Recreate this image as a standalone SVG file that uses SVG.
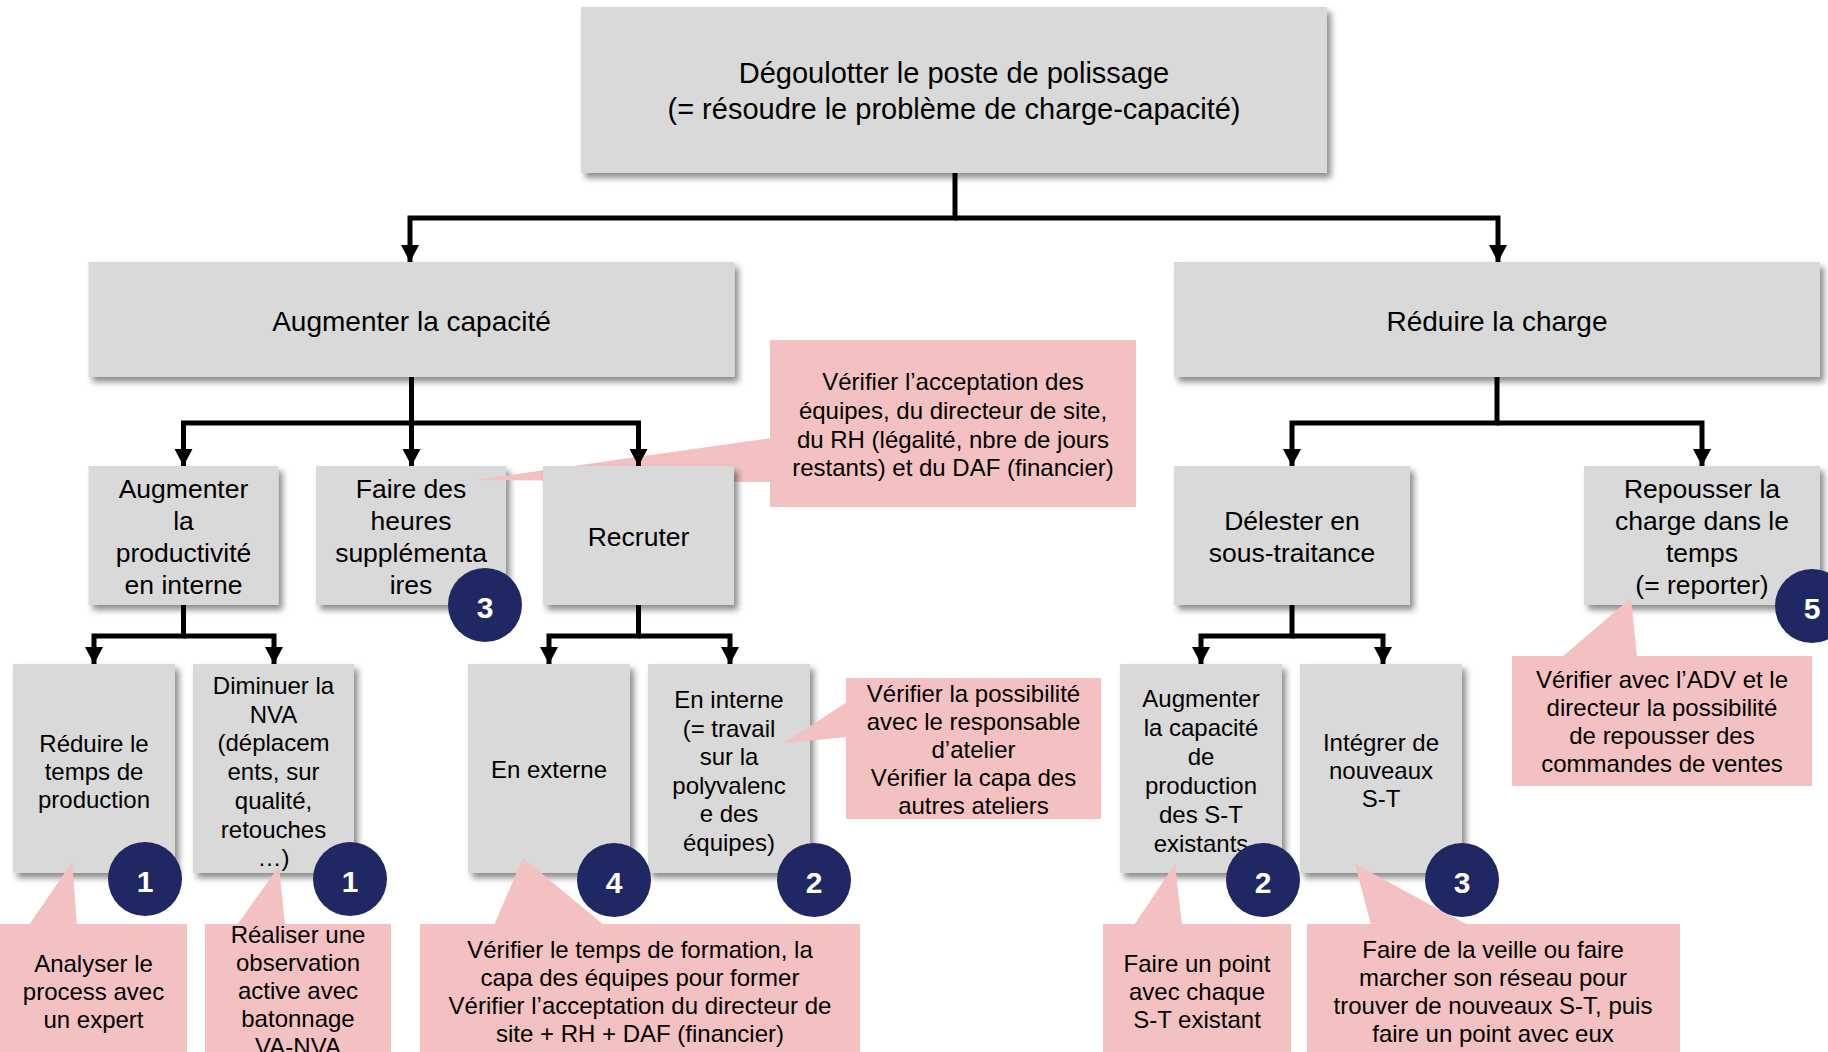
<svg xmlns="http://www.w3.org/2000/svg" width="1828" height="1052" viewBox="0 0 1828 1052">
<defs>
<filter id="sh" x="-10%" y="-10%" width="130%" height="130%">
<feDropShadow dx="4" dy="5" stdDeviation="3" flood-color="#000" flood-opacity="0.45"/>
</filter>
<marker id="ah" markerUnits="userSpaceOnUse" markerWidth="17" markerHeight="18" refX="17" refY="9" orient="auto">
<path d="M0,0 L17,9 L0,18 Z" fill="#000"/>
</marker>
<style>
.box{fill:#D9D9D9;filter:url(#sh)}
.call{fill:#F3C1C2}
.badge{fill:#1F2862}
text{font-family:"Liberation Sans",Arial,sans-serif;fill:#000;text-anchor:middle}
.t29{font-size:29px}
.t28{font-size:28px}
.t26{font-size:26.5px}
.t24{font-size:24px}
.num{font-size:30px;font-weight:bold;fill:#fff}
.conn{fill:none;stroke:#000;stroke-width:5;marker-end:url(#ah)}
</style>
</defs>
<rect width="1828" height="1052" fill="#fff"/>

<g id="n-root">
<rect class="box" x="581" y="7" width="746" height="166"/>
<text class="t29" x="954" y="83">Dégoulotter le poste de polissage</text>
<text class="t29" x="954" y="119">(= résoudre le problème de charge-capacité)</text>
</g>

<g id="n-capacite">
<rect class="box" x="88.5" y="262" width="646" height="115"/>
<text class="t28" x="411.5" y="331">Augmenter la capacité</text>
</g>

<g id="n-charge">
<rect class="box" x="1174" y="262" width="646" height="115"/>
<text class="t28" x="1497" y="331">Réduire la charge</text>
</g>

<g id="n-productivite">
<rect class="box" x="88.5" y="466" width="190" height="139"/>
<text class="t26" x="183.5" y="498">Augmenter</text>
<text class="t26" x="183.5" y="530">la</text>
<text class="t26" x="183.5" y="562">productivité</text>
<text class="t26" x="183.5" y="594">en interne</text>
</g>

<g id="n-heures">
<rect class="box" x="316" y="466" width="190" height="139"/>
<text class="t26" x="411" y="498">Faire des</text>
<text class="t26" x="411" y="530">heures</text>
<text class="t26" x="411" y="562">supplémenta</text>
<text class="t26" x="411" y="594">ires</text>
</g>

<g id="c-heures">
<polygon class="call" points="474,480 771,438 771,482"/>
<rect class="call" x="770" y="340" width="366" height="167"/>
<text class="t24" x="953" y="390">Vérifier l’acceptation des</text>
<text class="t24" x="953" y="418.8">équipes, du directeur de site,</text>
<text class="t24" x="953" y="447.6">du RH (légalité, nbre de jours</text>
<text class="t24" x="953" y="476.4">restants) et du DAF (financier)</text>
</g>

<g id="n-recruter">
<rect class="box" x="543" y="466" width="191" height="139"/>
<text class="t26" x="638.5" y="546">Recruter</text>
</g>

<g id="n-delester">
<rect class="box" x="1174" y="466" width="236" height="139"/>
<text class="t26" x="1292" y="530">Délester en</text>
<text class="t26" x="1292" y="562">sous-traitance</text>
</g>

<g id="n-repousser">
<rect class="box" x="1584" y="466" width="236" height="139"/>
<text class="t26" x="1702" y="498">Repousser la</text>
<text class="t26" x="1702" y="530">charge dans le</text>
<text class="t26" x="1702" y="562">temps</text>
<text class="t26" x="1702" y="594">(= reporter)</text>
</g>

<g id="n-temps">
<rect class="box" x="13" y="664" width="162" height="209"/>
<text class="t24" x="94" y="752">Réduire le</text>
<text class="t24" x="94" y="780">temps de</text>
<text class="t24" x="94" y="808">production</text>
</g>

<g id="n-nva">
<rect class="box" x="193" y="664" width="161" height="209"/>
<text class="t24" x="273.5" y="694">Diminuer la</text>
<text class="t24" x="273.5" y="722.7">NVA</text>
<text class="t24" x="273.5" y="751.4">(déplacem</text>
<text class="t24" x="273.5" y="780.1">ents, sur</text>
<text class="t24" x="273.5" y="808.8">qualité,</text>
<text class="t24" x="273.5" y="837.5">retouches</text>
<text class="t24" x="273.5" y="866.2">…)</text>
</g>

<g id="n-externe">
<rect class="box" x="468" y="664" width="162" height="209"/>
<text class="t24" x="549" y="778">En externe</text>
</g>

<g id="n-interne">
<rect class="box" x="648" y="664" width="162" height="209"/>
<text class="t24" x="729" y="708">En interne</text>
<text class="t24" x="729" y="736.5">(= travail</text>
<text class="t24" x="729" y="765">sur la</text>
<text class="t24" x="729" y="793.5">polyvalenc</text>
<text class="t24" x="729" y="822">e des</text>
<text class="t24" x="729" y="850.5">équipes)</text>
</g>

<g id="n-st-existants">
<rect class="box" x="1120" y="664" width="162" height="209"/>
<text class="t24" x="1201" y="707">Augmenter</text>
<text class="t24" x="1201" y="736">la capacité</text>
<text class="t24" x="1201" y="765">de</text>
<text class="t24" x="1201" y="794">production</text>
<text class="t24" x="1201" y="823">des S-T</text>
<text class="t24" x="1201" y="852">existants</text>
</g>

<g id="n-st-nouveaux">
<rect class="box" x="1300" y="664" width="162" height="209"/>
<text class="t24" x="1381" y="751">Intégrer de</text>
<text class="t24" x="1381" y="779">nouveaux</text>
<text class="t24" x="1381" y="807">S-T</text>
</g>

<g id="connectors">
<path class="conn" d="M955,173 V218 H410 V262"/>
<path class="conn" d="M955,218 H1498 V262"/>
<path class="conn" d="M411.5,377 V423 H183.5 V466"/>
<path class="conn" d="M411.5,423 V466"/>
<path class="conn" d="M411.5,423 H638.5 V466"/>
<path class="conn" d="M1497,377 V423 H1292 V466"/>
<path class="conn" d="M1497,423 H1702 V466"/>
<path class="conn" d="M183.5,605 V636 H94 V664"/>
<path class="conn" d="M183.5,636 H274 V664"/>
<path class="conn" d="M638.5,605 V636 H549 V664"/>
<path class="conn" d="M638.5,636 H730 V664"/>
<path class="conn" d="M1292,605 V636 H1201 V664"/>
<path class="conn" d="M1292,636 H1383 V664"/>
</g>

<g id="c-interne">
<polygon class="call" points="784,743 847,702 847,737"/>
<rect class="call" x="846" y="678" width="255" height="141"/>
<text class="t24" x="973.5" y="702">Vérifier la possibilité</text>
<text class="t24" x="973.5" y="730">avec le responsable</text>
<text class="t24" x="973.5" y="758">d’atelier</text>
<text class="t24" x="973.5" y="786">Vérifier la capa des</text>
<text class="t24" x="973.5" y="814">autres ateliers</text>
</g>

<g id="c-temps">
<polygon class="call" points="29,925 72,862 77,925"/>
<rect class="call" x="0" y="924" width="187" height="140"/>
<text class="t24" x="93.5" y="972">Analyser le</text>
<text class="t24" x="93.5" y="1000">process avec</text>
<text class="t24" x="93.5" y="1028">un expert</text>
</g>

<g id="c-nva">
<polygon class="call" points="237,925 279,866 285,925"/>
<rect class="call" x="205" y="924" width="186" height="140"/>
<text class="t24" x="298" y="943">Réaliser une</text>
<text class="t24" x="298" y="971">observation</text>
<text class="t24" x="298" y="999">active avec</text>
<text class="t24" x="298" y="1027">batonnage</text>
<text class="t24" x="298" y="1055">VA-NVA</text>
</g>

<g id="c-externe">
<polygon class="call" points="494,925 523,858 604,925"/>
<rect class="call" x="420" y="924" width="440" height="140"/>
<text class="t24" x="640" y="958">Vérifier le temps de formation, la</text>
<text class="t24" x="640" y="986">capa des équipes pour former</text>
<text class="t24" x="640" y="1014">Vérifier l’acceptation du directeur de</text>
<text class="t24" x="640" y="1042">site + RH + DAF (financier)</text>
</g>

<g id="c-st-existants">
<polygon class="call" points="1134,925 1175,864 1182,925"/>
<rect class="call" x="1103" y="924" width="188" height="140"/>
<text class="t24" x="1197" y="972">Faire un point</text>
<text class="t24" x="1197" y="1000">avec chaque</text>
<text class="t24" x="1197" y="1028">S-T existant</text>
</g>

<g id="c-st-nouveaux">
<polygon class="call" points="1371,925 1355,864 1468,925"/>
<rect class="call" x="1307" y="924" width="373" height="140"/>
<text class="t24" x="1493" y="958">Faire de la veille ou faire</text>
<text class="t24" x="1493" y="986">marcher son réseau pour</text>
<text class="t24" x="1493" y="1014">trouver de nouveaux S-T, puis</text>
<text class="t24" x="1493" y="1042">faire un point avec eux</text>
</g>

<g id="c-repousser">
<polygon class="call" points="1562,657 1631,598 1637,657"/>
<rect class="call" x="1512" y="656" width="300" height="130"/>
<text class="t24" x="1662" y="688">Vérifier avec l’ADV et le</text>
<text class="t24" x="1662" y="716">directeur la possibilité</text>
<text class="t24" x="1662" y="744">de repousser des</text>
<text class="t24" x="1662" y="772">commandes de ventes</text>
</g>

<g id="badges">
<circle class="badge" cx="145" cy="879" r="37"/><text class="num" x="145" y="892">1</text>
<circle class="badge" cx="350" cy="879" r="37"/><text class="num" x="350" y="892">1</text>
<circle class="badge" cx="485" cy="605" r="37"/><text class="num" x="485" y="618">3</text>
<circle class="badge" cx="614" cy="880" r="37"/><text class="num" x="614" y="893">4</text>
<circle class="badge" cx="814" cy="880" r="37"/><text class="num" x="814" y="893">2</text>
<circle class="badge" cx="1263" cy="880" r="37"/><text class="num" x="1263" y="893">2</text>
<circle class="badge" cx="1462" cy="880" r="37"/><text class="num" x="1462" y="893">3</text>
<circle class="badge" cx="1812" cy="606" r="37"/><text class="num" x="1812" y="619">5</text>
</g>
</svg>
